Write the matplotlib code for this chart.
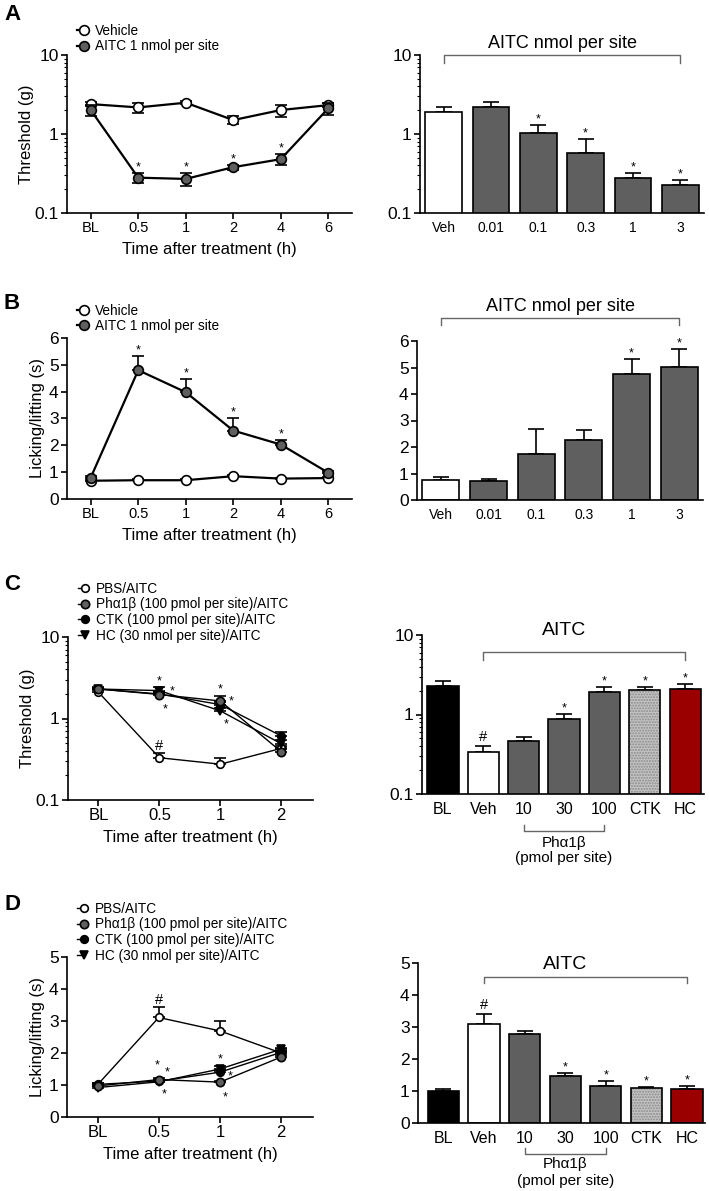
import matplotlib
matplotlib.use('Agg')
import matplotlib.pyplot as plt
import numpy as np
from matplotlib.ticker import LogLocator, NullFormatter, FixedLocator
from matplotlib.legend_handler import HandlerLine2D
from matplotlib.lines import Line2D

plt.rcParams['font.family'] = ['Liberation Sans', 'DejaVu Sans']

# ---------------- data ----------------
time_AB = ['BL', '0.5', '1', '2', '4', '6']
A_veh = [2.39, 2.17, 2.49, 1.50, 2.01, 2.32]
A_veh_err = [0.12, 0.30, 0.12, 0.18, 0.35, 0.12]
A_aitc = [2.01, 0.28, 0.27, 0.38, 0.48, 2.11]
A_aitc_err = [0.33, 0.04, 0.05, 0.03, 0.08, 0.38]
A_aitc_sig = [False, True, True, True, True, False]

dose_AB = ['Veh', '0.01', '0.1', '0.3', '1', '3']
A_bar = [1.91, 2.17, 1.03, 0.575, 0.275, 0.226]
A_bar_err = [0.30, 0.34, 0.26, 0.30, 0.045, 0.037]
A_bar_sig = [False, False, True, True, True, True]

B_veh = [0.68, 0.70, 0.70, 0.85, 0.76, 0.78]
B_veh_err = [0.04, 0.04, 0.04, 0.05, 0.04, 0.04]
B_aitc = [0.80, 4.80, 3.98, 2.55, 2.03, 0.98]
B_aitc_err = [0.05, 0.54, 0.49, 0.47, 0.17, 0.05]
B_aitc_sig = [False, True, True, True, True, False]

B_bar = [0.75, 0.72, 1.73, 2.25, 4.76, 5.03]
B_bar_err = [0.13, 0.07, 0.94, 0.40, 0.56, 0.65]
B_bar_sig = [False, False, False, False, True, True]

time_CD = ['BL', '0.5', '1', '2']
C_pbs = [2.10, 0.33, 0.275, 0.43]
C_pbs_err = [0.12, 0.05, 0.05, 0.03]
C_ph = [2.30, 1.97, 1.64, 0.39]
C_ph_err = [0.12, 0.10, 0.24, 0.03]
C_ctk = [2.30, 2.00, 1.48, 0.61]
C_ctk_err = [0.10, 0.10, 0.10, 0.07]
C_hc = [2.30, 2.20, 1.24, 0.49]
C_hc_err = [0.10, 0.24, 0.10, 0.05]

groups_CD = ['BL', 'Veh', '10', '30', '100', 'CTK', 'HC']
C_bar = [2.31, 0.334, 0.46, 0.877, 1.92, 2.01, 2.09]
C_bar_err = [0.32, 0.07, 0.056, 0.13, 0.28, 0.23, 0.35]
C_bar_mark = ['', '#', '', '*', '*', '*', '*']

D_pbs = [1.01, 3.11, 2.69, 2.00]
D_pbs_err = [0.05, 0.32, 0.30, 0.05]
D_ph = [0.97, 1.17, 1.09, 1.875]
D_ph_err = [0.04, 0.05, 0.05, 0.05]
D_ctk = [1.02, 1.12, 1.40, 2.02]
D_ctk_err = [0.04, 0.05, 0.06, 0.05]
D_hc = [0.92, 1.10, 1.50, 2.12]
D_hc_err = [0.04, 0.05, 0.08, 0.05]

D_bar = [1.00, 3.08, 2.79, 1.47, 1.15, 1.10, 1.07]
D_bar_err = [0.07, 0.34, 0.10, 0.08, 0.17, 0.04, 0.09]
D_bar_mark = ['', '#', '', '*', '*', '*', '*']

# ---------------- style ----------------
GRAY = '#5f5f5f'
BAR_COLORS = ['black', 'white', GRAY, GRAY, GRAY, '#c4c4c4', '#9b0000']
LW = 1.2
YT = 12.5  # y tick label size

W, H = 709, 1191
fig = plt.figure(figsize=(W / 100, H / 100), dpi=100)


def add_ax(x0, y0, x1, y1):
    return fig.add_axes([x0 / W, 1 - y1 / H, (x1 - x0) / W, (y1 - y0) / H])


def style(ax, log=False, xt=10.5):
    for s in ['top', 'right']:
        ax.spines[s].set_visible(False)
    for s in ['left', 'bottom']:
        ax.spines[s].set_linewidth(LW)
    ax.tick_params(axis='both', which='major', direction='out', length=4, width=LW,
                   pad=2)
    ax.tick_params(axis='y', labelsize=YT)
    ax.tick_params(axis='x', labelsize=xt)
    ax.tick_params(axis='y', which='minor', direction='out', length=2.2, width=0.8)
    if log:
        ax.set_yscale('log')
        ax.set_ylim(0.1, 10)
        ax.yaxis.set_major_locator(FixedLocator([0.1, 1, 10]))
        ax.set_yticklabels(['0.1', '1', '10'])
        ax.yaxis.set_minor_locator(LogLocator(base=10, subs=np.arange(2, 10)))
        ax.yaxis.set_minor_formatter(NullFormatter())


class StubHandler(HandlerLine2D):
    def create_artists(self, legend, orig_handle, xdescent, ydescent, width, height,
                       fontsize, trans):
        arts = super().create_artists(legend, orig_handle, xdescent, ydescent, width,
                                      height, fontsize, trans)
        for a in arts:
            xd, yd = a.get_xdata(), a.get_ydata()
            if len(xd) == 3:
                a.set_data(xd[:2], yd[:2])
        return arts


def legend(ax, handles, labels, anchor):
    ax.legend(handles, labels, loc='lower left', bbox_to_anchor=anchor, frameon=False,
              fontsize=9.8, handlelength=1.1, handletextpad=0.25, labelspacing=0.12,
              borderpad=0, borderaxespad=0, numpoints=1,
              handler_map={Line2D: StubHandler(numpoints=1)})


def series(ax, x, y, err, marker, fc, ms, lw, two_sided=False, z=3):
    e = np.array(err)
    yerr = [e, e] if two_sided else [np.zeros_like(e), e]
    ax.errorbar(x, y, yerr=yerr, fmt='none', ecolor='black', elinewidth=LW,
                capsize=4, capthick=LW, zorder=z)
    ln, = ax.plot(x, y, color='black', lw=lw, marker=marker, ms=ms, mfc=fc,
                  mec='black', mew=1.2, zorder=z + 0.5)
    return ln


def stars(ax, x, y, err, flags, sym='*', dx=0, dy=2, fs=9):
    for xi, yi, ei, f in zip(x, y, err, flags):
        if f:
            ax.annotate(sym if isinstance(f, bool) else f, (xi, yi + ei),
                        xytext=(dx, dy), textcoords='offset points',
                        ha='center', va='center', fontsize=fs)


def bars(ax, vals, err, colors, marks, width):
    x = np.arange(len(vals))
    for xi, v, c in zip(x, vals, colors):
        if c == '#c4c4c4':
            ax.bar(xi, v, width=width, color=c, edgecolor='#8a8a8a', hatch='......',
                   linewidth=0, zorder=2)
            ax.bar(xi, v, width=width, fill=False, edgecolor='black', linewidth=LW,
                   zorder=2.1)
        else:
            ax.bar(xi, v, width=width, color=c, edgecolor='black', linewidth=LW,
                   zorder=2)
    e = np.array(err)
    ax.errorbar(x, vals, yerr=[np.zeros_like(e), e], fmt='none', ecolor='black',
                elinewidth=LW, capsize=5.5, capthick=LW, zorder=1.9)
    for xi, v, ei, m in zip(x, vals, err, marks):
        if m:
            ax.annotate(m, (xi, v + ei), xytext=(0, 4 if m == '*' else 6),
                        textcoords='offset points', ha='center', va='center',
                        fontsize=9 if m == '*' else 10.5)
    ax.tick_params(axis='x', length=0, pad=6)
    return x


def bracket(ax, x0, x1, y, drop, up=False):
    tr = ax.get_xaxis_transform()
    d = drop if up else -drop
    ax.plot([x0, x0, x1, x1], [y + d, y, y, y + d], color='#666666', lw=1.0,
            transform=tr, clip_on=False)


# ---------------- Panel A ----------------
ax = add_ax(67, 55, 352, 213)
style(ax, log=True, xt=10.5)
x = np.arange(len(time_AB))
h1 = series(ax, x, A_veh, A_veh_err, 'o', 'white', 7, 1.6, two_sided=True)
h2 = series(ax, x, A_aitc, A_aitc_err, 'o', GRAY, 7, 1.6, two_sided=True, z=4)
stars(ax, x, np.array(A_aitc) * 1.0, np.array(A_aitc_err), A_aitc_sig, dy=4)
ax.set_xticks(x)
ax.set_xticklabels(time_AB)
ax.set_xlim(-0.5, 5.5)
ax.set_ylabel('Threshold (g)', fontsize=12, labelpad=0)
ax.set_xlabel('Time after treatment (h)', fontsize=12, labelpad=5)
legend(ax, [h1, h2], ['Vehicle', 'AITC 1 nmol per site'], (0.035, 1.01))

ax = add_ax(420, 55, 704, 213)
style(ax, log=True)
xb = bars(ax, A_bar, A_bar_err, ['white'] + [GRAY] * 5,
          ['*' if s else '' for s in A_bar_sig], 0.78)
ax.set_xticks(xb)
ax.set_xticklabels(dose_AB, fontsize=10)
ax.set_xlim(-0.5, 5.5)
bracket(ax, 0, 5, 1.0, 0.05)
ax.text(2.5, 1.075, 'AITC nmol per site', transform=ax.get_xaxis_transform(),
        ha='center', va='center', fontsize=13)

# ---------------- Panel B ----------------
ax = add_ax(67, 338, 352, 499)
style(ax, xt=10.5)
h1 = series(ax, x, B_veh, B_veh_err, 'o', 'white', 7, 1.6)
h2 = series(ax, x, B_aitc, B_aitc_err, 'o', GRAY, 7, 1.6, z=4)
stars(ax, x, np.array(B_aitc), np.array(B_aitc_err), B_aitc_sig, dy=4)
ax.set_ylim(0, 6)
ax.set_yticks(range(0, 7))
ax.set_xticks(x)
ax.set_xticklabels(time_AB)
ax.set_xlim(-0.5, 5.5)
ax.set_ylabel('Licking/lifting (s)', fontsize=12, labelpad=3)
ax.set_xlabel('Time after treatment (h)', fontsize=12, labelpad=5)
legend(ax, [h1, h2], ['Vehicle', 'AITC 1 nmol per site'], (0.035, 1.03))

ax = add_ax(417, 341, 703, 500)
style(ax)
xb = bars(ax, B_bar, B_bar_err, ['white'] + [GRAY] * 5,
          ['*' if s else '' for s in B_bar_sig], 0.78)
ax.set_ylim(0, 6)
ax.set_yticks(range(0, 7))
ax.set_xticks(xb)
ax.set_xticklabels(dose_AB, fontsize=10)
ax.set_xlim(-0.5, 5.5)
bracket(ax, 0, 5, 1.145, 0.045)
ax.text(2.5, 1.215, 'AITC nmol per site', transform=ax.get_xaxis_transform(),
        ha='center', va='center', fontsize=13)

# ---------------- Panel C ----------------
ax = add_ax(68, 637, 313, 800)
style(ax, log=True, xt=12)
xc = np.arange(len(time_CD))
h1 = series(ax, xc, C_pbs, C_pbs_err, 'o', 'white', 5.5, 1.0, z=3)
h2 = series(ax, xc, C_ph, C_ph_err, 'o', GRAY, 6, 1.0, z=5)
h3 = series(ax, xc, C_ctk, C_ctk_err, 'o', 'black', 5.5, 1.0, z=4)
h4 = series(ax, xc, C_hc, C_hc_err, 'v', 'black', 6, 1.0, z=4.2)
stars(ax, xc, np.array(C_pbs), np.array(C_pbs_err), [False, '#', False, False], dy=5, fs=10.5)
for xi, yi, off in [(1, C_hc[1] + C_hc_err[1], (0, 4)),
                    (1, C_ctk[1], (9, 2)),
                    (1, C_ph[1], (4, -11)),
                    (2, C_ph[2] + C_ph_err[2], (0, 5)),
                    (2, C_ctk[2], (8, 2)),
                    (2, C_hc[2], (4, -10))]:
    ax.annotate('*', (xi, yi), xytext=off, textcoords='offset points', ha='center',
                va='center', fontsize=9)
ax.set_xticks(xc)
ax.set_xticklabels(time_CD)
ax.set_xlim(-0.5, 3.52)
ax.set_ylabel('Threshold (g)', fontsize=12, labelpad=0)
ax.set_xlabel('Time after treatment (h)', fontsize=12, labelpad=5)
legend(ax, [h1, h2, h3, h4],
       ['PBS/AITC', 'Phα1β (100 pmol per site)/AITC', 'CTK (100 pmol per site)/AITC',
        'HC (30 nmol per site)/AITC'], (0.04, 0.965))

ax = add_ax(422, 635, 704, 794)
style(ax, log=True)
xb = bars(ax, C_bar, C_bar_err, BAR_COLORS, C_bar_mark, 0.77)
ax.set_xticks(xb)
ax.set_xticklabels(groups_CD, fontsize=11.5)
ax.set_xlim(-0.52, 6.47)
bracket(ax, 1, 6, 0.893, 0.05)
ax.text(3.0, 1.03, 'AITC', transform=ax.get_xaxis_transform(), ha='center',
        va='center', fontsize=14)
bracket(ax, 2, 4, -0.233, 0.035, up=True)
ax.text(3.0, -0.31, 'Phα1β', transform=ax.get_xaxis_transform(), ha='center',
        va='center', fontsize=11)
ax.text(3.0, -0.405, '(pmol per site)', transform=ax.get_xaxis_transform(),
        ha='center', va='center', fontsize=11)

# ---------------- Panel D ----------------
ax = add_ax(67, 957, 313, 1117)
style(ax, xt=12)
h1 = series(ax, xc, D_pbs, D_pbs_err, 'o', 'white', 5.5, 1.0, z=3)
h2 = series(ax, xc, D_ph, D_ph_err, 'o', GRAY, 6, 1.0, z=5)
h3 = series(ax, xc, D_ctk, D_ctk_err, 'o', 'black', 5.5, 1.0, z=4)
h4 = series(ax, xc, D_hc, D_hc_err, 'v', 'black', 6, 1.0, z=4.2)
stars(ax, xc, np.array(D_pbs), np.array(D_pbs_err), [False, '#', False, False], dy=5, fs=10.5)
for xi, yi, off in [(1, D_ph[1], (-1, 10)),
                    (1, D_ctk[1], (6, 6)),
                    (1, D_hc[1], (4, -9)),
                    (2, D_hc[2] + D_hc_err[2], (0, 5)),
                    (2, D_ctk[2], (7, -3)),
                    (2, D_ph[2], (4, -11))]:
    ax.annotate('*', (xi, yi), xytext=off, textcoords='offset points', ha='center',
                va='center', fontsize=9)
ax.set_ylim(0, 5)
ax.set_yticks(range(0, 6))
ax.set_xticks(xc)
ax.set_xticklabels(time_CD)
ax.set_xlim(-0.5, 3.52)
ax.set_ylabel('Licking/lifting (s)', fontsize=12, labelpad=3)
ax.set_xlabel('Time after treatment (h)', fontsize=12, labelpad=5)
legend(ax, [h1, h2, h3, h4],
       ['PBS/AITC', 'Phα1β (100 pmol per site)/AITC', 'CTK (100 pmol per site)/AITC',
        'HC (30 nmol per site)/AITC'], (0.04, 0.965))

ax = add_ax(418, 963, 705, 1123)
style(ax)
xb = bars(ax, D_bar, D_bar_err, BAR_COLORS, D_bar_mark, 0.77)
ax.set_ylim(0, 5)
ax.set_yticks(range(0, 6))
ax.set_xticks(xb)
ax.set_xticklabels(groups_CD, fontsize=11.5)
ax.set_xlim(-0.62, 6.44)
bracket(ax, 1, 6, 0.9125, 0.04)
ax.text(3.0, 0.99, 'AITC', transform=ax.get_xaxis_transform(), ha='center',
        va='center', fontsize=14)
bracket(ax, 2, 4, -0.194, 0.035, up=True)
ax.text(3.0, -0.255, 'Phα1β', transform=ax.get_xaxis_transform(), ha='center',
        va='center', fontsize=11)
ax.text(3.0, -0.36, '(pmol per site)', transform=ax.get_xaxis_transform(),
        ha='center', va='center', fontsize=11)

# ---------------- panel letters ----------------
for lab, yy in [('A', 14), ('B', 304), ('C', 584), ('D', 904)]:
    fig.text(12 / W, 1 - yy / H, lab, fontsize=16, fontweight='bold', ha='center',
             va='center')

fig.savefig('out.png', dpi=100)
